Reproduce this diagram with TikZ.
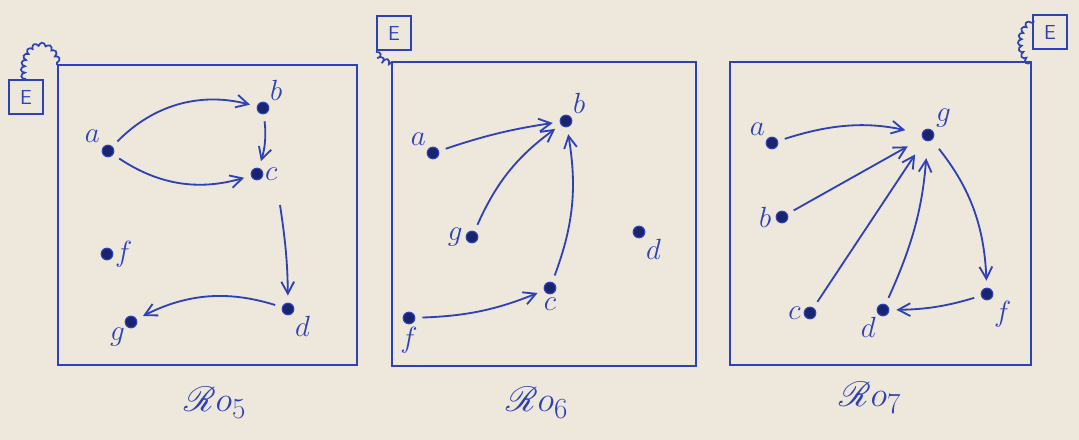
\documentclass[tikz,border=0pt]{standalone}
\usepackage{amsmath,amssymb}
\usepackage{mathrsfs}
\usetikzlibrary{arrows.meta,positioning,decorations.pathmorphing}
\definecolor{ink}{RGB}{45,65,185}
\definecolor{inkdark}{RGB}{25,35,110}
\definecolor{paper}{RGB}{238,231,219}

\begin{document}
\begin{tikzpicture}[x=0.025cm,y=-0.025cm]
\tikzstyle{dot}=[circle, fill=inkdark, draw=ink, line width=0.8pt, inner sep=0pt, minimum size=0.29cm]
\tikzstyle{frame}=[draw=ink, line width=1.8pt]
\tikzstyle{ebox}=[draw=ink, line width=1.6pt, minimum width=0.85cm, minimum height=0.85cm, inner sep=0pt, text=ink, font=\Large\sffamily]
\tikzstyle{arr}=[draw=ink, line width=1.3pt, -{Straight Barb[length=3mm,width=3.2mm]}, shorten >=5pt, shorten <=5pt]
\tikzstyle{curl}=[draw=ink, line width=1.2pt, decorate, decoration={bumps, segment length=9pt, amplitude=3pt}]
\tikzstyle{title}=[text=ink, font=\fontsize{30}{36}\selectfont]
\tikzset{every label/.style={text=ink, font=\fontsize{22}{26}\selectfont, inner sep=1pt}}

\fill[paper] (0,0) rectangle (1079,440);
\useasboundingbox (0,0) rectangle (1079,440);

% R5
\draw[frame] (58,65) rectangle (357,365);
\node[ebox] (e5) at (26,97) {E};
\draw[curl] (e5.north) .. controls (20,45) and (50,35) .. (57,65);
\node[dot, label={[label distance=2pt]above left:$a$}] (a5) at (108,151) {};
\node[dot, label={[label distance=1pt]above right:$b$}] (b5) at (263,108) {};
\node[dot, label={[label distance=0pt]right:$c$}] (c5) at (257,174) {};
\node[dot, label={[label distance=0pt]right:$f$}] (f5) at (107,254) {};
\node[dot, label={[label distance=1pt]below right:$d$}] (d5) at (288,309) {};
\node[dot, label={[label distance=0pt]below left:$g$}] (g5) at (131,322) {};
\coordinate (c5x) at (280,205);
\draw[arr] (a5) to[bend left=30] (b5);
\draw[arr] (a5) to[bend right=25] (c5);
\draw[arr] (b5) to[bend left=12] (c5);
\draw[arr, shorten <=0pt] (c5x) to[bend left=4] (d5);
\draw[arr] (d5) to[bend right=22] (g5);
\node[title] (r5) at (215,403) {$\mathscr{R}o_{5}$};

% R6
\draw[frame] (392,62) rectangle (696,366);
\node[ebox] (e6) at (394,33) {E};
\draw[curl] (376,52) .. controls (378,62) and (385,64) .. (392,62);
\node[dot, label={[label distance=1pt]above left:$a$}] (a6) at (433,153) {};
\node[dot, label={[label distance=1pt]above right:$b$}] (b6) at (566,121) {};
\node[dot, label={[label distance=1pt]left:$g$}] (g6) at (472,237) {};
\node[dot, label={[label distance=1pt]below right:$d$}] (d6) at (639,232) {};
\node[dot, label={[label distance=1pt]below:$c$}] (c6) at (550,288) {};
\node[dot, label={[label distance=1pt]below:$f$}] (f6) at (409,318) {};
\draw[arr] (a6) to[bend left=5] (b6);
\draw[arr] (g6) to[bend left=15] (b6);
\draw[arr] (c6) to[bend right=15] (b6);
\draw[arr] (f6) to[bend right=10] (c6);
\node[title] (r6) at (537,403) {$\mathscr{R}o_{6}$};

% R7
\draw[frame] (730,62) rectangle (1031,365);
\node[ebox] (e7) at (1050,32) {E};
\draw[curl] (1031,62) .. controls (1018,50) and (1020,30) .. (1034,22);
\node[dot, label={[label distance=1pt]above left:$a$}] (a7) at (772,143) {};
\node[dot, label={[label distance=2pt]above right:$g$}] (g7) at (928,135) {};
\node[dot, label={[label distance=2pt]left:$b$}] (b7) at (782,217) {};
\node[dot, label={[label distance=1pt]left:$c$}] (c7) at (810,313) {};
\node[dot, label={[label distance=1pt]below left:$d$}] (d7) at (883,310) {};
\node[dot, label={[label distance=1pt]below right:$f$}] (f7) at (987,294) {};
\draw[arr, shorten >=12pt] (a7) to[bend left=15] (g7);
\draw[arr, shorten >=12pt] (b7) -- (g7);
\draw[arr, shorten >=12pt] (c7) -- (g7);
\draw[arr, shorten >=12pt] (d7) to[bend right=10] (g7);
\draw[arr, shorten <=8pt] (g7) to[bend left=18] (f7);
\draw[arr] (f7) to[bend left=8] (d7);
\node[title] (r7) at (870,398) {$\mathscr{R}o_{7}$};
\end{tikzpicture}
\end{document}
